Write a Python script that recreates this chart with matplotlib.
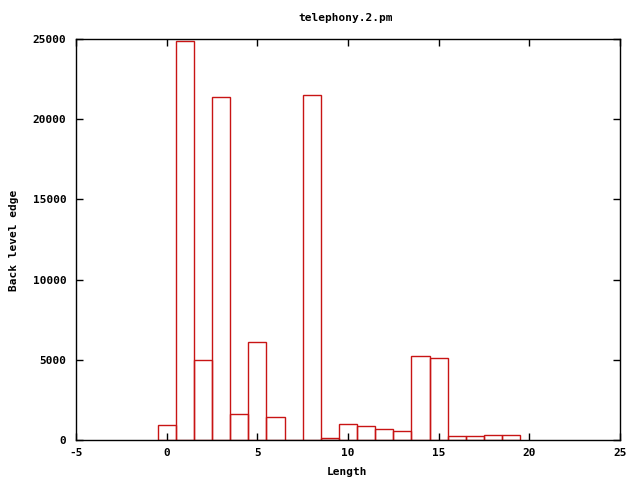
import matplotlib
matplotlib.use("Agg")
import matplotlib.pyplot as plt

lengths = list(range(0, 20))
counts = [920, 24860, 4970, 21360, 1600, 6090, 1420, 0, 21480, 110,
          980, 860, 690, 570, 5220, 5090, 230, 230, 295, 295]

title = "telephony.2.pm"
xlabel = "Length"
ylabel = "Back level edge"
xticks = [-5, 0, 5, 10, 15, 20, 25]
yticks = [0, 5000, 10000, 15000, 20000, 25000]

font = {"family": "DejaVu Sans Mono", "weight": "bold", "size": 8}

fig = plt.figure(figsize=(6.4, 4.8), dpi=100)
ax = fig.add_axes([76/640, 40/480, 544/640, 401/480])

ax.bar(lengths, counts, width=1.0, align="center", facecolor="none",
       edgecolor="#c81414", linewidth=1.0)

ax.set_xlim(-5, 25)
ax.set_ylim(0, 25000)
ax.set_xticks(xticks)
ax.set_yticks(yticks)
ax.set_xticklabels([str(t) for t in xticks], fontdict=font)
ax.set_yticklabels([str(t) for t in yticks], fontdict=font)
ax.tick_params(direction="in", top=True, right=True, length=5, width=1)
ax.tick_params(axis="x", pad=6)
ax.tick_params(axis="y", pad=7)
for s in ax.spines.values():
    s.set_linewidth(1.0)
    s.set_color("black")

fig.text(346/640, 1 - 18/480, title, ha="center", va="center", fontdict=font)
fig.text(347/640, 1 - 472/480, xlabel, ha="center", va="center", fontdict=font)
fig.text(14/640, 1 - 240/480, ylabel, ha="center", va="center", rotation=90, fontdict=font)

fig.savefig("out.png", dpi=100)
